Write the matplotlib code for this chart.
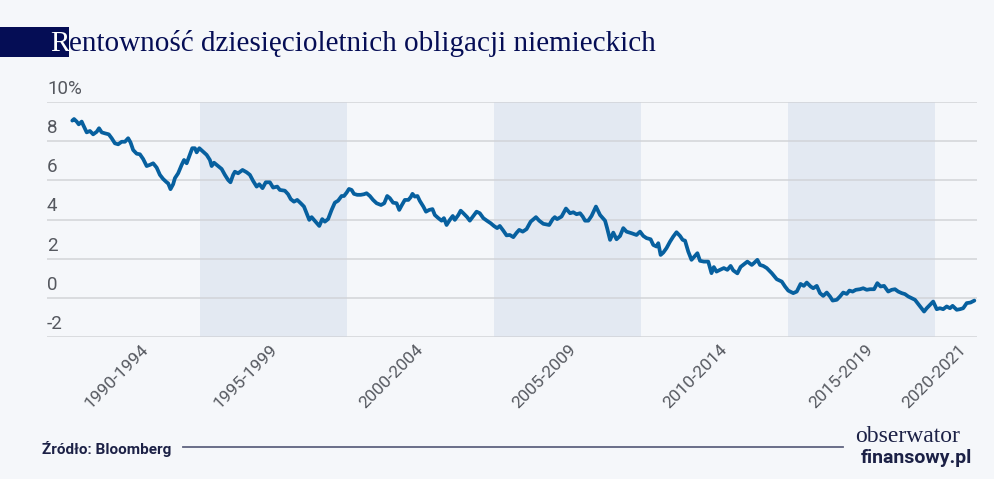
import numpy as np
import matplotlib.pyplot as plt
from matplotlib.patches import Rectangle
from matplotlib.lines import Line2D
from matplotlib.transforms import offset_copy


# 10Y German Bund yield
years = [
    1990.66, 1990.72, 1990.81, 1990.88, 1990.98, 1991.03, 1991.15, 1991.26, 1991.37, 1991.49,
    1991.57, 1991.66, 1991.77, 1991.90, 1992.00, 1992.11, 1992.22, 1992.34, 1992.45, 1992.56,
    1992.64, 1992.73, 1992.85, 1992.96, 1993.07, 1993.19, 1993.30, 1993.41, 1993.53, 1993.64,
    1993.75, 1993.87, 1993.92, 1994.00, 1994.09, 1994.15, 1994.26, 1994.38, 1994.46, 1994.55,
    1994.64, 1994.74, 1994.83, 1994.89, 1994.98, 1995.11, 1995.23, 1995.34, 1995.40, 1995.48,
    1995.57, 1995.74, 1995.85, 1995.96, 1996.04, 1996.13, 1996.19, 1996.30, 1996.45, 1996.59,
    1996.70, 1996.81, 1996.93, 1997.02, 1997.13, 1997.24, 1997.38, 1997.49, 1997.63, 1997.72,
    1997.89, 1998.00, 1998.09, 1998.20, 1998.31, 1998.43, 1998.54, 1998.63, 1998.72, 1998.80,
    1998.91, 1999.06, 1999.16, 1999.25, 1999.36, 1999.48, 1999.59, 1999.70, 1999.82, 1999.90,
    1999.99, 2000.07, 2000.16, 2000.24, 2000.35, 2000.47, 2000.58, 2000.67, 2000.78, 2000.89,
    2001.01, 2001.16, 2001.27, 2001.37, 2001.46, 2001.57, 2001.69, 2001.78, 2001.87, 2001.97,
    2002.09, 2002.17, 2002.23, 2002.31, 2002.40, 2002.48, 2002.60, 2002.69, 2002.80, 2002.91,
    2002.99, 2003.11, 2003.22, 2003.30, 2003.39, 2003.50, 2003.60, 2003.67, 2003.79, 2003.87,
    2003.96, 2004.09, 2004.18, 2004.30, 2004.41, 2004.52, 2004.64, 2004.77, 2004.89, 2005.00,
    2005.11, 2005.20, 2005.32, 2005.43, 2005.54, 2005.66, 2005.77, 2005.86, 2005.98, 2006.11,
    2006.25, 2006.43, 2006.54, 2006.68, 2006.88, 2007.00, 2007.07, 2007.15, 2007.30, 2007.45,
    2007.59, 2007.70, 2007.81, 2007.93, 2008.02, 2008.10, 2008.21, 2008.32, 2008.47, 2008.61,
    2008.78, 2008.85, 2008.95, 2009.06, 2009.17, 2009.29, 2009.40, 2009.51, 2009.68, 2009.85,
    2009.97, 2010.08, 2010.19, 2010.33, 2010.42, 2010.53, 2010.59, 2010.67, 2010.76, 2010.87,
    2010.99, 2011.10, 2011.21, 2011.33, 2011.42, 2011.50, 2011.61, 2011.72, 2011.84, 2011.92,
    2012.01, 2012.14, 2012.29, 2012.40, 2012.48, 2012.57, 2012.69, 2012.82, 2012.94, 2013.05,
    2013.14, 2013.28, 2013.39, 2013.50, 2013.62, 2013.77, 2013.84, 2013.96, 2014.05, 2014.16,
    2014.28, 2014.45, 2014.62, 2014.79, 2014.90, 2015.01, 2015.18, 2015.30, 2015.43, 2015.54,
    2015.64, 2015.77, 2015.86, 2015.98, 2016.09, 2016.20, 2016.32, 2016.43, 2016.52, 2016.66,
    2016.77, 2016.88, 2017.00, 2017.09, 2017.20, 2017.31, 2017.45, 2017.56, 2017.68, 2017.79,
    2017.93, 2018.04, 2018.15, 2018.27, 2018.41, 2018.53, 2018.64, 2018.75, 2018.87, 2018.98,
    2019.09, 2019.21, 2019.32, 2019.43, 2019.55, 2019.63, 2019.72, 2019.83, 2019.94, 2020.06,
    2020.17, 2020.28, 2020.40, 2020.51, 2020.60, 2020.74, 2020.85, 2020.96, 2021.08, 2021.21,
    2021.34,
]
yields = [
    9.05, 9.13, 9.00, 8.86, 9.00, 8.83, 8.45, 8.52, 8.35, 8.48,
    8.66, 8.45, 8.40, 8.35, 8.15, 7.89, 7.84, 7.97, 7.97, 8.15,
    7.94, 7.55, 7.36, 7.33, 7.09, 6.73, 6.79, 6.87, 6.65, 6.28,
    6.07, 5.90, 5.85, 5.55, 5.80, 6.11, 6.36, 6.79, 7.04, 6.87,
    7.24, 7.64, 7.64, 7.43, 7.64, 7.46, 7.30, 7.04, 6.73, 6.90,
    6.79, 6.58, 6.28, 6.02, 5.90, 6.28, 6.44, 6.36, 6.53, 6.41,
    6.28, 5.97, 5.68, 5.80, 5.60, 5.90, 5.90, 5.63, 5.68, 5.51,
    5.47, 5.29, 5.04, 4.91, 5.00, 4.83, 4.66, 4.32, 3.98, 4.12,
    3.93, 3.67, 4.02, 3.89, 4.02, 4.49, 4.86, 4.96, 5.20, 5.20,
    5.37, 5.56, 5.51, 5.31, 5.26, 5.26, 5.29, 5.34, 5.20, 5.00,
    4.83, 4.74, 4.83, 5.20, 5.09, 4.86, 4.83, 4.49, 4.74, 5.00,
    5.00, 5.14, 5.31, 5.17, 5.20, 4.95, 4.66, 4.40, 4.49, 4.53,
    4.23, 4.07, 3.94, 4.07, 3.72, 3.98, 4.18, 3.98, 4.23, 4.45,
    4.32, 4.12, 3.94, 4.18, 4.40, 4.32, 4.07, 3.93, 3.81, 3.67,
    3.56, 3.67, 3.43, 3.19, 3.21, 3.10, 3.32, 3.47, 3.38, 3.51,
    3.89, 4.12, 3.94, 3.78, 3.72, 4.02, 4.12, 4.02, 4.15, 4.56,
    4.32, 4.37, 4.27, 4.32, 4.15, 3.94, 3.94, 4.18, 4.66, 4.23,
    3.94, 3.56, 2.96, 3.33, 2.99, 3.16, 3.56, 3.38, 3.30, 3.21,
    3.38, 3.16, 3.05, 2.99, 2.70, 2.62, 2.79, 2.19, 2.31, 2.54,
    2.87, 3.13, 3.35, 3.16, 2.96, 2.92, 2.36, 1.94, 2.14, 2.28,
    1.89, 1.85, 1.85, 1.26, 1.57, 1.34, 1.43, 1.52, 1.43, 1.63,
    1.40, 1.25, 1.58, 1.71, 1.85, 1.68, 1.77, 1.94, 1.68, 1.63,
    1.52, 1.26, 0.95, 0.83, 0.58, 0.37, 0.24, 0.32, 0.71, 0.61,
    0.78, 0.58, 0.49, 0.61, 0.24, 0.10, 0.27, 0.07, -0.14, -0.10,
    0.07, 0.27, 0.20, 0.37, 0.32, 0.41, 0.44, 0.49, 0.41, 0.44,
    0.44, 0.75, 0.58, 0.61, 0.32, 0.41, 0.44, 0.32, 0.24, 0.19,
    0.07, -0.02, -0.10, -0.31, -0.53, -0.70, -0.53, -0.36, -0.19, -0.58,
    -0.53, -0.58, -0.44, -0.53, -0.41, -0.61, -0.58, -0.53, -0.27, -0.24,
    -0.14,
]

band_starts = [1995, 2005, 2015]
band_ends = [2000, 2010, 2020]

period_labels = ["1990-1994", "1995-1999", "2000-2004", "2005-2009",
                 "2010-2014", "2015-2019", "2020-2021"]
period_label_pos = [1993.15, 1997.55, 2002.5, 2007.7, 2012.85, 2017.8, 2020.98]

y_ticks = [-2, 0, 2, 4, 6, 8, 10]
y_tick_labels = ["-2", "0", "2", "4", "6", "8", "10%"]

BG = "#f5f7fa"
BAND = "#e3e9f2"
GRID = "#d2d4d8"
LINE = "#07609f"
NAVY = "#050d55"
DARK = "#1c2146"
TICK = "#55585f"

W, H = 995, 479

fig = plt.figure(figsize=(W / 100, H / 100), dpi=100)
fig.patch.set_facecolor(BG)

ax = fig.add_axes([47 / W, 1 - 337 / H, 930 / W, 235 / H])
ax.set_facecolor(BG)

for s, e in zip(band_starts, band_ends):
    ax.axvspan(s, e, color=BAND, lw=0, zorder=0)
for v in y_ticks:
    ax.axhline(v, color=GRID, lw=1.1, zorder=1)

ax.plot(years, yields, color=LINE, lw=2.7, zorder=3,
        solid_joinstyle="round", solid_capstyle="round")

ax.set_xlim(1989.8, 2021.43)
ax.set_ylim(-2, 10)
for s in ax.spines.values():
    s.set_visible(False)

ax.set_yticks([])
ax.set_xticks(period_label_pos)
ax.set_xticklabels(period_labels, rotation=45, ha="right", va="center",
                   rotation_mode="anchor", fontsize=12.5, color=TICK, family="Roboto")
ax.tick_params(axis="x", length=0, pad=7)

ytrans = offset_copy(ax.get_yaxis_transform(), fig=fig, x=0, y=3, units="points")
for v, lab in zip(y_ticks, y_tick_labels):
    ax.text(0.0, v, lab, transform=ytrans, ha="left", va="bottom",
            fontsize=13.5, color=TICK, family="Roboto")

# title with navy block behind first letter
fig.add_artist(Rectangle((0, 1 - 57 / H), 69 / W, 30 / H, transform=fig.transFigure,
                         facecolor=NAVY, edgecolor="none"))
title_y = 1 - 51 / H
first = fig.text(50 / W, title_y, "R", color="white", fontsize=21,
                 family="Liberation Serif", ha="left", va="baseline")
fig.canvas.draw()
bb = first.get_window_extent(fig.canvas.get_renderer())
fig.text(bb.x1 / W, title_y, "entowność dziesięcioletnich obligacji niemieckich",
         color=NAVY, fontsize=21, family="Liberation Serif", ha="left", va="baseline")

# footer
fig.text(42 / W, 1 - 449 / H, "Źródło: Bloomberg", color=DARK, fontsize=11,
         fontweight="bold", family="Roboto", ha="left", va="center")
fig.add_artist(Line2D([183 / W, 843 / W], [1 - 447 / H, 1 - 447 / H],
                      transform=fig.transFigure, color="#5f6380", lw=1.3))
fig.text(855 / W, 1 - 442 / H, "obserwator", color=DARK, fontsize=17,
         family="Liberation Serif", ha="left", va="baseline")
fig.text(861 / W, 1 - 449 / H, "finansowy.pl", color=DARK, fontsize=14,
         fontweight="bold", family="Roboto", ha="left", va="top")

fig.savefig("out.png", dpi=100, facecolor=BG)
